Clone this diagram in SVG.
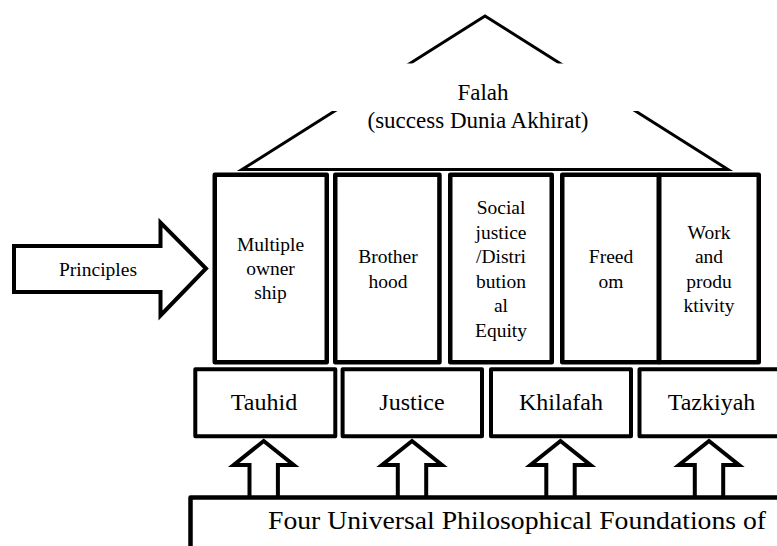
<svg xmlns="http://www.w3.org/2000/svg" width="777" height="546" viewBox="0 0 777 546">
<style>
  .pillar { fill: #fff; stroke: #000; stroke-width: 4.5; stroke-linejoin: round; }
  .base { fill: #fff; stroke: #000; stroke-width: 4; stroke-linejoin: round; }
  .blk { fill: #fff; stroke: #000; stroke-width: 4; stroke-linejoin: miter; stroke-miterlimit: 10; }
  .pt { font-size: 19.5px; }
  .bt { font-size: 24px; }
</style>
<rect width="777" height="546" fill="#fff"/>
<g font-family="Liberation Serif, serif" text-anchor="middle" fill="#000">

<g id="roof">
  <polygon points="242,169.5 485,16 728,169.5" fill="#fff" stroke="#000" stroke-width="3" stroke-linejoin="miter"/>
  <line x1="242" y1="169.5" x2="728" y2="169.5" stroke="#000" stroke-width="2.5"/>
  <rect x="331" y="63.5" width="310" height="47.5" fill="#fff"/>
  <text x="483" y="100" font-size="23" font-family="Liberation Serif">Falah</text>
  <text x="478" y="127.5" font-size="23" font-family="Liberation Serif">(success Dunia Akhirat)</text>
</g>

<g id="pillar-multiple-ownership">
  <rect class="pillar" x="214.75" y="174.75" width="112" height="187.5"/>
  <text class="pt" x="270.5" y="251">Multiple</text>
  <text class="pt" x="270.5" y="275">owner</text>
  <text class="pt" x="270.5" y="299">ship</text>
</g>
<g id="pillar-brotherhood">
  <rect class="pillar" x="335.25" y="174.75" width="104.2" height="187.5"/>
  <text class="pt" x="388" y="262.7">Brother</text>
  <text class="pt" x="388" y="287.7">hood</text>
</g>
<g id="pillar-social-justice">
  <rect class="pillar" x="450.25" y="174.75" width="101.5" height="187.5"/>
  <text class="pt" x="501" y="214.3">Social</text>
  <text class="pt" x="501" y="239">justice</text>
  <text class="pt" x="501" y="262.7">/Distri</text>
  <text class="pt" x="501" y="287.7">bution</text>
  <text class="pt" x="501" y="311.7">al</text>
  <text class="pt" x="501" y="336.7">Equity</text>
</g>
<g id="pillar-freedom">
  <rect class="pillar" x="562.25" y="174.75" width="96.5" height="187.5"/>
  <text class="pt" x="611" y="262.7">Freed</text>
  <text class="pt" x="611" y="287.7">om</text>
</g>
<g id="pillar-work">
  <rect class="pillar" x="659.25" y="174.75" width="99.5" height="187.5"/>
  <text class="pt" x="709" y="239">Work</text>
  <text class="pt" x="709" y="262.7">and</text>
  <text class="pt" x="709" y="287.7">produ</text>
  <text class="pt" x="709" y="311.7">ktivity</text>
</g>

<g id="principles">
  <polygon class="blk" points="14,246 160.5,246 160.5,222.5 206,268.5 160.5,315.5 160.5,292 14,292"/>
  <text class="pt" x="98" y="275.7">Principles</text>
</g>

<g id="tauhid">
  <rect class="base" x="195.3" y="369.3" width="140" height="67"/>
  <text class="bt" x="264" y="410">Tauhid</text>
</g>
<g id="justice">
  <rect class="base" x="342.6" y="369.3" width="139.4" height="67"/>
  <text class="bt" x="412" y="410">Justice</text>
</g>
<g id="khilafah">
  <rect class="base" x="491" y="369.3" width="140" height="67"/>
  <text class="bt" x="561" y="410">Khilafah</text>
</g>
<g id="tazkiyah">
  <rect class="base" x="639.5" y="369.3" width="150" height="67"/>
  <text class="bt" x="711.5" y="410">Tazkiyah</text>
</g>

<g id="connectors">
  <polyline class="blk" points="249.5,499 249.5,465 233.7,465 263.7,441 293.7,465 277.9,465 277.9,499"/>
  <polyline class="blk" points="397.8,499 397.8,465 382,465 412,441 442,465 426.2,465 426.2,499"/>
  <polyline class="blk" points="546.3,499 546.3,465 530.5,465 560.5,441 590.5,465 574.7,465 574.7,499"/>
  <polyline class="blk" points="694.8,499 694.8,465 679,465 709,441 739,465 723.2,465 723.2,499"/>
</g>

<g id="foundations">
  <rect x="190.5" y="497.5" width="620" height="80" fill="#fff" stroke="#000" stroke-width="4.5" stroke-linejoin="round"/>
  <text x="517" y="529.3" font-size="25" textLength="498" lengthAdjust="spacingAndGlyphs">Four Universal Philosophical Foundations of</text>
</g>
</g>
</svg>
